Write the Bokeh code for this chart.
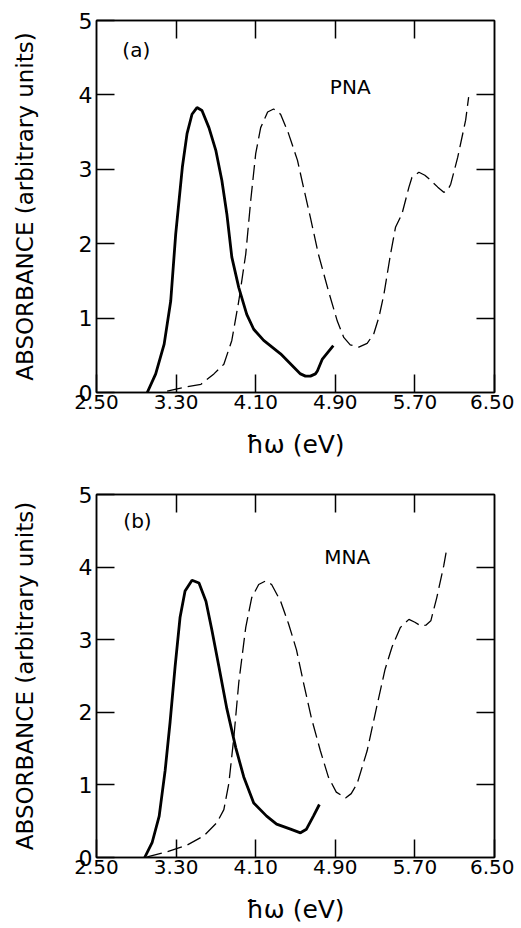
from bokeh.plotting import figure
from bokeh.layouts import column
from bokeh.models import Range1d, FixedTicker, LinearAxis, PrintfTickFormatter
from bokeh.core.properties import value
from bokeh.embed import file_html
from bokeh.resources import INLINE

# ---- data ----
x_ticks = [2.50, 3.30, 4.10, 4.90, 5.70, 6.50]
y_ticks = [0, 1, 2, 3, 4, 5]

# (a) PNA
pna_solid_x = [3.01, 3.095, 3.18, 3.246, 3.296, 3.363, 3.41, 3.46, 3.51, 3.56, 3.63, 3.70, 3.76, 3.81,
               3.86, 3.93, 4.01, 4.08, 4.18, 4.35, 4.55, 4.60, 4.65, 4.70, 4.72, 4.77, 4.88]
pna_solid_y = [0.0, 0.25, 0.65, 1.23, 2.13, 3.03, 3.48, 3.74, 3.83, 3.79, 3.56, 3.25, 2.85, 2.40,
               1.82, 1.41, 1.05, 0.85, 0.70, 0.52, 0.25, 0.22, 0.22, 0.25, 0.29, 0.45, 0.63]
pna_dash_x = [3.21, 3.38, 3.55, 3.68, 3.78, 3.86, 3.93, 4.00, 4.05, 4.10, 4.15, 4.22, 4.28, 4.35, 4.43,
              4.52, 4.58, 4.65, 4.73, 4.83, 4.92, 4.985, 5.05, 5.136, 5.22, 5.287, 5.34, 5.39, 5.455,
              5.505, 5.57, 5.64, 5.67, 5.74, 5.80, 5.86, 5.93, 5.99, 6.03, 6.06, 6.13, 6.21, 6.24]
pna_dash_y = [0.02, 0.07, 0.11, 0.25, 0.38, 0.70, 1.23, 1.86, 2.58, 3.21, 3.56, 3.77, 3.81, 3.74, 3.48,
              3.12, 2.76, 2.35, 1.86, 1.37, 0.96, 0.74, 0.64, 0.61, 0.66, 0.79, 1.02, 1.33, 1.86,
              2.22, 2.40, 2.76, 2.89, 2.96, 2.92, 2.85, 2.76, 2.69, 2.72, 2.80, 3.16, 3.66, 3.97]

# (b) MNA
mna_solid_x = [2.984, 3.06, 3.13, 3.19, 3.24, 3.29, 3.34, 3.39, 3.46, 3.53, 3.60, 3.66, 3.73, 3.81,
               3.90, 3.98, 4.08, 4.21, 4.31, 4.45, 4.55, 4.61, 4.68, 4.74]
mna_solid_y = [0.0, 0.21, 0.57, 1.20, 1.87, 2.63, 3.31, 3.67, 3.82, 3.78, 3.53, 3.13, 2.63, 2.05,
               1.51, 1.11, 0.75, 0.57, 0.46, 0.39, 0.34, 0.39, 0.57, 0.73]
mna_dash_x = [3.01, 3.21, 3.41, 3.58, 3.71, 3.78, 3.83, 3.88, 3.93, 4.00, 4.06, 4.13, 4.20, 4.26, 4.35,
              4.43, 4.51, 4.58, 4.66, 4.75, 4.83, 4.91, 5.003, 5.06, 5.12, 5.22, 5.32, 5.40, 5.47,
              5.555, 5.64, 5.70, 5.76, 5.81, 5.86, 5.92, 5.99, 6.02]
mna_dash_y = [0.01, 0.08, 0.17, 0.30, 0.48, 0.66, 1.02, 1.65, 2.41, 3.17, 3.58, 3.76, 3.81, 3.76, 3.53,
              3.22, 2.86, 2.41, 1.92, 1.47, 1.11, 0.90, 0.82, 0.88, 1.02, 1.47, 2.10, 2.59, 2.90,
              3.17, 3.28, 3.24, 3.19, 3.20, 3.26, 3.58, 4.02, 4.25]

panel_labels = ["(a)", "(b)"]
compound_labels = ["PNA", "MNA"]

FONT = "DejaVu Sans"


def make_panel(sx, sy, dx, dy, tag, name, tag_pos, name_pos, top, bottom):
    p = figure(width=514, height=top + 372 + bottom,
               x_range=Range1d(2.5, 6.5), y_range=Range1d(0, 5),
               output_backend="svg", toolbar_location=None,
               min_border_left=96, min_border_right=20,
               min_border_top=top, min_border_bottom=bottom)
    p.xgrid.visible = False
    p.ygrid.visible = False
    p.outline_line_color = "black"
    p.outline_line_width = 1.5
    p.background_fill_color = "white"

    p.line(sx, sy, line_color="black", line_width=2.8)
    p.line(dx, dy, line_color="black", line_width=1.3, line_dash="15 6")

    p.text([tag_pos[0]], [tag_pos[1]], text=[tag], text_font=value(FONT),
           text_font_size="20px", text_baseline="middle", text_align="left", text_color="black")
    p.text([name_pos[0]], [name_pos[1]], text=[name], text_font=value(FONT),
           text_font_size="20px", text_baseline="middle", text_align="center", text_color="black")

    for ax in p.xaxis:
        ax.ticker = FixedTicker(ticks=x_ticks)
        ax.formatter = PrintfTickFormatter(format="%.2f")
        ax.axis_label = "ħω (eV)"
        ax.axis_label_text_font = FONT
        ax.axis_label_text_font_size = "25px"
        ax.axis_label_text_font_style = "normal"
        ax.axis_label_standoff = 18
        ax.major_label_text_font = FONT
        ax.major_label_text_font_size = "20px"
        ax.major_label_standoff = 2
    for ax in p.yaxis:
        ax.ticker = FixedTicker(ticks=y_ticks)
        ax.axis_label = "ABSORBANCE (arbitrary units)"
        ax.axis_label_text_font = FONT
        ax.axis_label_text_font_size = "23px"
        ax.axis_label_text_font_style = "normal"
        ax.axis_label_standoff = 38
        ax.major_label_text_font = FONT
        ax.major_label_text_font_size = "22px"
        ax.major_label_standoff = 4
        ax.major_label_orientation = "horizontal"
    for ax in list(p.xaxis) + list(p.yaxis):
        ax.major_tick_in = 18
        ax.major_tick_out = 0
        ax.minor_tick_in = 0
        ax.minor_tick_out = 0
        ax.major_tick_line_width = 1.5
        ax.axis_line_width = 1.5
        ax.major_label_text_color = "black"
        ax.axis_label_text_color = "black"

    right = LinearAxis(ticker=FixedTicker(ticks=y_ticks[1:-1]), major_label_text_color=None,
                       major_tick_in=18, major_tick_out=0, minor_tick_in=0, minor_tick_out=0,
                       major_tick_line_width=1.5, axis_line_width=1.5, major_label_standoff=0)
    above = LinearAxis(ticker=FixedTicker(ticks=x_ticks[1:-1]), major_label_text_color=None,
                       major_tick_in=18, major_tick_out=0, minor_tick_in=0, minor_tick_out=0,
                       major_tick_line_width=1.5, axis_line_width=1.5, major_label_standoff=0)
    p.add_layout(right, "right")
    p.add_layout(above, "above")
    return p


p1 = make_panel(pna_solid_x, pna_solid_y, pna_dash_x, pna_dash_y,
                panel_labels[0], compound_labels[0], (2.76, 4.61), (5.05, 4.11), 20, 72)
p2 = make_panel(mna_solid_x, mna_solid_y, mna_dash_x, mna_dash_y,
                panel_labels[1], compound_labels[1], (2.77, 4.64), (5.02, 4.14), 30, 60)

layout = column(p1, p2, spacing=0)
open("out.html", "w").write(file_html(layout, INLINE))
